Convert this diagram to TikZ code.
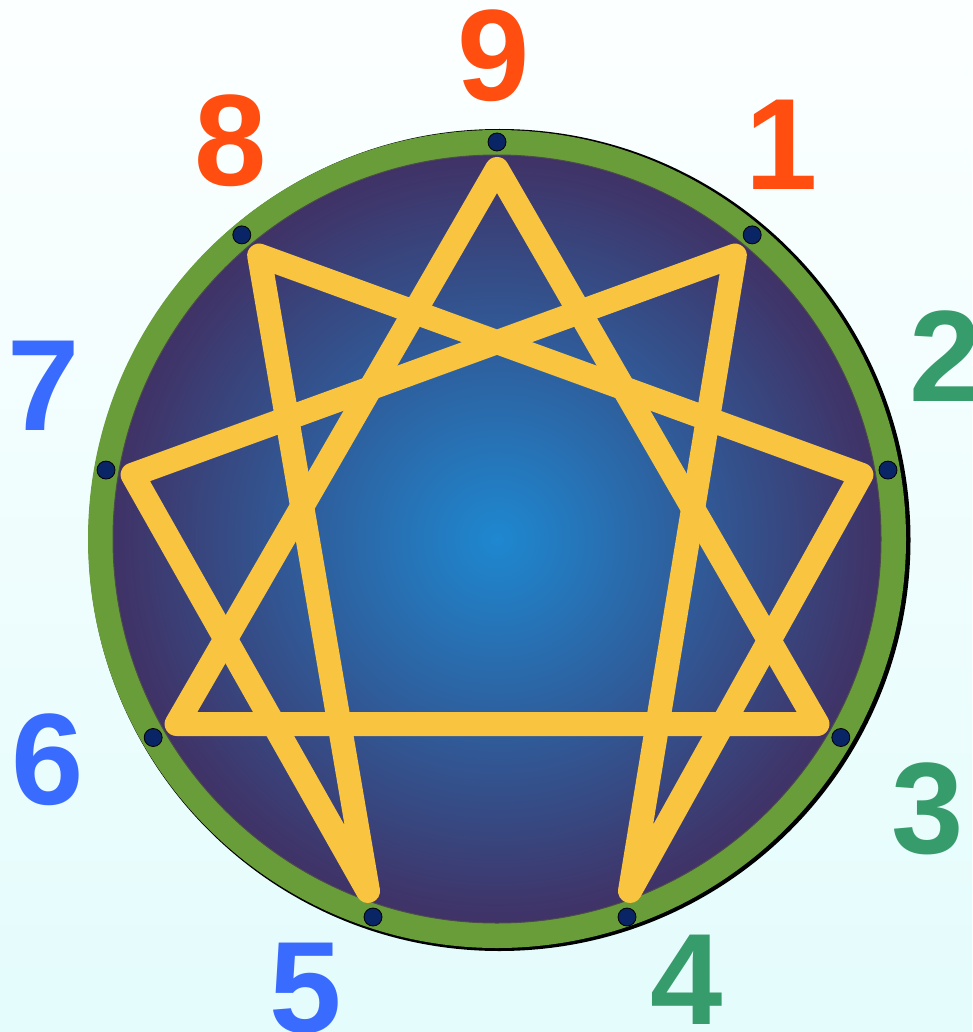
\documentclass[tikz,border=0pt]{standalone}
\usepackage{fontspec}
\setmainfont{Liberation Sans}
\definecolor{bgtop}{HTML}{FCFFFF}
\definecolor{bgbottom}{HTML}{E4FCFC}
\definecolor{ringgreen}{HTML}{699D3A}
\definecolor{discin}{HTML}{1E88D0}
\definecolor{discout}{HTML}{403266}
\definecolor{staryellow}{HTML}{F9C440}
\definecolor{dotblue}{HTML}{0A2566}
\definecolor{numred}{HTML}{FF4E10}
\definecolor{numgreen}{HTML}{379C6B}
\definecolor{numblue}{HTML}{3A6BFF}
\pgfdeclareradialshading{discshade}{\pgfpoint{0bp}{0bp}}{color(0bp)=(discin); color(25bp)=(discout); color(50bp)=(discout)}

\begin{document}
\begin{tikzpicture}[x=1pt,y=-1pt,
    digit/.style={font=\fontsize{130}{130}\selectfont\bfseries, inner sep=0pt},
    starline/.style={line width=24pt, draw=staryellow, line join=round, line cap=round},
    ringdot/.style={circle, fill=dotblue, draw=black, line width=0.8pt, minimum size=18pt, inner sep=0pt}]
\useasboundingbox (0,0) rectangle (972,1032);
\shade[top color=bgtop, bottom color=bgbottom] (0,0) rectangle (972,1032);

% ring and disc
\coordinate (c) at (497,539);
\fill[black] (499.5,540) circle (411);
\fill[ringgreen] (c) circle (409);
\shade[shading=discshade, draw=black!70, line width=1pt] (c) circle (384);

% star points
\foreach \n in {1,2,3,6,7,8,9}
    \coordinate (v\n) at ({497+370*cos(40*\n-90)},{539+370*sin(40*\n-90)});
\coordinate (v4) at (630,891);
\coordinate (v5) at (368,891);
\draw[starline] (v9) -- (v3) -- (v6) -- cycle;
\draw[starline] (v1) -- (v4) -- (v2) -- (v8) -- (v5) -- (v7) -- cycle;

% dots on the ring
\foreach \n in {1,2,3,6,7,8,9}
    \node[ringdot] (d\n) at ({497+397*cos(40*\n-90)},{539+397*sin(40*\n-90)}) {};
\node[ringdot] (d4) at (627,917) {};
\node[ringdot] (d5) at (373,917) {};

% numbers
\node[digit, text=numred] (n9) at (494,56) {9};
\node[digit, text=numred] (n1) at (782,145) {1};
\node[digit, text=numgreen] (n2) at (946,356) {2};
\node[digit, text=numgreen] (n3) at (928,809) {3};
\node[digit, text=numgreen] (n4) at (687,980) {4};
\node[digit, text=numblue] (n5) at (306,988) {5};
\node[digit, text=numblue] (n6) at (48,760) {6};
\node[digit, text=numblue] (n7) at (44,386) {7};
\node[digit, text=numred] (n8) at (231,141) {8};
\end{tikzpicture}
\end{document}
